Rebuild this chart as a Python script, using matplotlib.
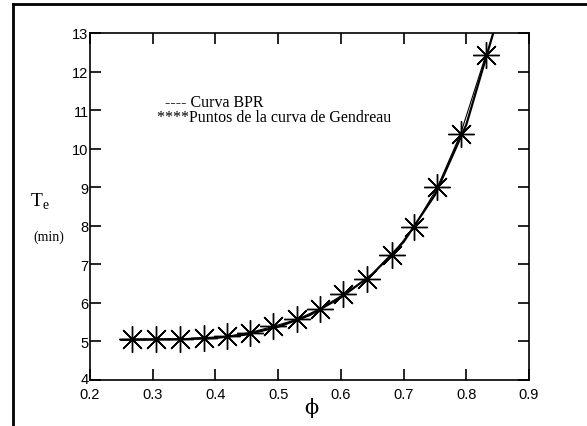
import matplotlib.pyplot as plt
import matplotlib.transforms as mtransforms
from matplotlib.lines import Line2D

# Puntos de la curva de Gendreau
phi_gen = [0.267, 0.306, 0.344, 0.382, 0.418, 0.455, 0.492, 0.530, 0.567, 0.604, 0.642, 0.681, 0.717, 0.754, 0.791, 0.831]
te_gen = [5.06, 5.06, 5.06, 5.10, 5.13, 5.23, 5.39, 5.57, 5.85, 6.22, 6.63, 7.23, 7.98, 9.00, 10.39, 12.42]

# Curva BPR
phi_bpr = [0.25, 0.30, 0.35, 0.40, 0.45, 0.50, 0.55, 0.60, 0.65, 0.70, 0.75, 0.80, 0.843]
te_bpr = [5.04, 5.05, 5.06, 5.09, 5.18, 5.38, 5.68, 6.14, 6.74, 7.58, 8.80, 10.62, 13.0]

xticks = [0.2, 0.3, 0.4, 0.5, 0.6, 0.7, 0.8, 0.9]
yticks = [4, 5, 6, 7, 8, 9, 10, 11, 12, 13]

fig = plt.figure(figsize=(5.87, 4.27), dpi=100)
ax = fig.add_axes([90/587, 1-381/427, (529-90)/587, (381-34)/427])

ax.plot(phi_bpr, te_bpr, color="black", linewidth=1.6)
ax.plot(phi_gen, te_gen, color="black", linewidth=0.8, marker=(8, 2, 0),
        markersize=19, markeredgewidth=1.0)

ax.set_xlim(0.2, 0.9)
ax.set_ylim(4, 13)
ax.set_xticks(xticks)
ax.set_xticklabels([str(t) for t in xticks])
ax.set_yticks(yticks)
ax.tick_params(direction="in", length=8, width=1.2, top=True, right=True,
               labelsize=10.5)
ax.tick_params(axis="x", pad=5)
ax.tick_params(axis="y", pad=1)
for lab in ax.get_xticklabels() + ax.get_yticklabels():
    lab.set_family("Liberation Sans")
for s in ax.spines.values():
    s.set_linewidth(1.2)

# el "4" queda un poco mas arriba para no tocar el "0.2"
lab4 = ax.get_yticklabels()[0]
lab4.set_transform(lab4.get_transform() + mtransforms.ScaledTranslation(0, 2.5/100, fig.dpi_scale_trans))

# etiquetas de ejes
fig.text(40/587, 1-202/427, "T$_\\mathregular{e}$", family="Liberation Serif",
         fontsize=14, ha="center", va="center")
fig.text(49/587, 1-237/427, "(min)", family="Liberation Serif",
         fontsize=10, ha="center", va="center")
fig.text(311/587, 1-408/427, "\u03d5", family="DejaVu Serif",
         fontsize=15, ha="center", va="center")

# leyenda escrita a mano
fig.text(165/587, 1-103/427, "---- Curva BPR", family="Liberation Serif",
         fontsize=11.5, ha="left", va="center")
fig.text(157/587, 1-118/427, "****Puntos de la curva de Gendreau", family="Liberation Serif",
         fontsize=11.5, ha="left", va="center")

# marco exterior
fig.add_artist(Line2D([13/587, 1], [1-5/427, 1-5/427], color="black", linewidth=2))
fig.add_artist(Line2D([13/587, 13/587], [0, 1-5/427], color="black", linewidth=2))

fig.savefig("out.png", dpi=100)
